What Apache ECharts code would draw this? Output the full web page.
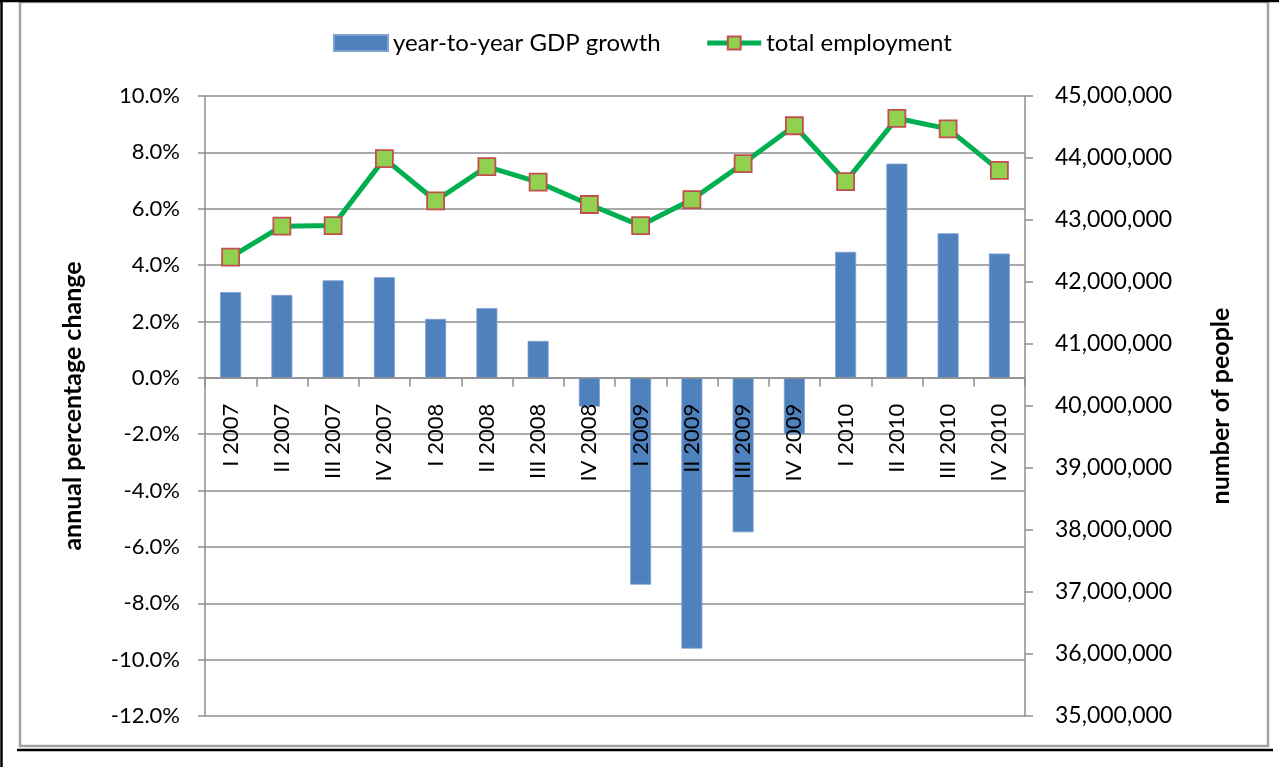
<!DOCTYPE html>
<html>
<head>
<meta charset="utf-8">
<title>GDP growth and total employment</title>
<script src="https://cdn.jsdelivr.net/npm/echarts@6/dist/echarts.min.js"></script>
<style>
  html, body { margin: 0; padding: 0; background: #ffffff; }
  #chart { width: 1279px; height: 767px; }
</style>
</head>
<body>
<div id="chart"></div>
<script>
// Quarterly categories
const categories = [
  'I 2007', 'II 2007', 'III 2007', 'IV 2007',
  'I 2008', 'II 2008', 'III 2008', 'IV 2008',
  'I 2009', 'II 2009', 'III 2009', 'IV 2009',
  'I 2010', 'II 2010', 'III 2010', 'IV 2010'
];

// Year-to-year GDP growth, percent
const gdpGrowth = [
  3.04, 2.94, 3.46, 3.57,
  2.09, 2.47, 1.31, -1.02,
  -7.34, -9.61, -5.48, -2.0,
  4.47, 7.60, 5.13, 4.41
];

// Total employment, number of people
const totalEmployment = [
  42400000, 42900000, 42910000, 43990000,
  43310000, 43860000, 43610000, 43250000,
  42910000, 43330000, 43910000, 44520000,
  43620000, 44640000, 44470000, 43800000
];

// Axis ranges
const pctMin = -12, pctMax = 10, pctStep = 2;
const peopleMin = 35000000, peopleMax = 45000000, peopleStep = 1000000;

const FONT = 'Lato';
const gridGray = '#8e8e8e';
const LABEL_GAP = 26; // distance of category labels below the zero line

const chart = echarts.init(document.getElementById('chart'), null, { renderer: 'canvas' });

chart.setOption({
  backgroundColor: '#ffffff',
  animation: false,
  textStyle: { fontFamily: FONT, color: '#000000' },
  graphic: [
    // chart frame
    { type: 'rect', shape: { x: 20, y: 2, width: 1248, height: 744 },
      style: { fill: 'none', stroke: '#a3a3a3', lineWidth: 2.5 }, z: 100 },
    // surrounding page rules
    { type: 'line', shape: { x1: 0, y1: 1, x2: 1279, y2: 1 },
      style: { stroke: '#000000', lineWidth: 2.5 }, z: 101 },
    { type: 'line', shape: { x1: 1.5, y1: 0, x2: 1.5, y2: 767 },
      style: { stroke: '#000000', lineWidth: 2.5 }, z: 101 },
    { type: 'line', shape: { x1: 17, y1: 750, x2: 1273, y2: 750 },
      style: { stroke: '#000000', lineWidth: 2.5 }, z: 101 }
  ],
  legend: {
    left: 328,
    top: 26,
    itemGap: 44,
    itemWidth: 54,
    itemHeight: 16,
    textStyle: { fontFamily: FONT, fontSize: 24, color: '#000000' },
    data: [
      { name: 'year-to-year GDP growth', icon: 'rect' },
      { name: 'total employment', lineStyle: { width: 5, color: '#00b050' } }
    ]
  },
  grid: {
    left: 205, right: 254, top: 96, bottom: 51,
    containLabel: false,
    outerBoundsMode: 'none'
  },
  xAxis: {
    type: 'category',
    data: categories,
    z: 5,
    boundaryGap: true,
    axisLine: { onZero: true, lineStyle: { color: gridGray, width: 1.5 } },
    axisTick: { show: true, alignWithLabel: false, length: 9, lineStyle: { color: gridGray, width: 1.5 } },
    axisLabel: {
      rotate: 90,
      margin: LABEL_GAP,
      interval: 0,
      hideOverlap: false,
      fontFamily: FONT,
      fontSize: 22,
      color: '#000000'
    },
    splitLine: { show: false }
  },
  yAxis: [
    {
      type: 'value',
      position: 'left',
      min: pctMin,
      max: pctMax,
      interval: pctStep,
      name: 'annual percentage change',
      nameLocation: 'middle',
      nameRotate: 90,
      nameGap: 120,
      nameTextStyle: { fontFamily: FONT, fontSize: 25, fontWeight: 'bold', color: '#000000' },
      axisLine: { show: true, lineStyle: { color: gridGray, width: 1.5 } },
      axisTick: { show: true, length: 7, lineStyle: { color: gridGray, width: 1.5 } },
      axisLabel: {
        margin: 25,
        fontFamily: FONT,
        fontSize: 22,
        color: '#000000',
        formatter: v => v.toFixed(1) + '%'
      },
      splitLine: { show: true, lineStyle: { color: gridGray, width: 1.5 } }
    },
    {
      type: 'value',
      position: 'right',
      min: peopleMin,
      max: peopleMax,
      interval: peopleStep,
      name: 'number of people',
      nameLocation: 'middle',
      nameRotate: 90,
      nameGap: 183,
      nameTextStyle: { fontFamily: FONT, fontSize: 25, fontWeight: 'bold', color: '#000000' },
      axisLine: { show: true, lineStyle: { color: gridGray, width: 1.5 } },
      axisTick: { show: true, length: 8, lineStyle: { color: gridGray, width: 1.5 } },
      axisLabel: {
        margin: 30,
        fontFamily: FONT,
        fontSize: 23,
        color: '#000000',
        formatter: v => v.toLocaleString('en-US')
      },
      splitLine: { show: false }
    }
  ],
  series: [
    {
      name: 'year-to-year GDP growth',
      type: 'bar',
      yAxisIndex: 0,
      data: gdpGrowth,
      barWidth: 21,
      z: 2,
      itemStyle: { color: '#4f81bd', borderColor: '#7ea2d0', borderWidth: 0.8 }
    },
    {
      name: 'total employment',
      type: 'line',
      yAxisIndex: 1,
      data: totalEmployment,
      z: 10,
      symbol: 'rect',
      symbolSize: 17,
      lineStyle: { color: '#00b050', width: 5 },
      itemStyle: { color: '#92d050', borderColor: '#c0504d', borderWidth: 1.8 }
    }
  ]
});

// Category labels hang just below the zero line of the percentage axis:
// measure where zero and the axis minimum fall and pull the labels up.
const zeroY = chart.convertToPixel({ yAxisIndex: 0 }, 0);
const bottomY = chart.convertToPixel({ yAxisIndex: 0 }, pctMin);
chart.setOption({
  xAxis: { axisLabel: { margin: LABEL_GAP - (bottomY - zeroY) } }
});
</script>
</body>
</html>
